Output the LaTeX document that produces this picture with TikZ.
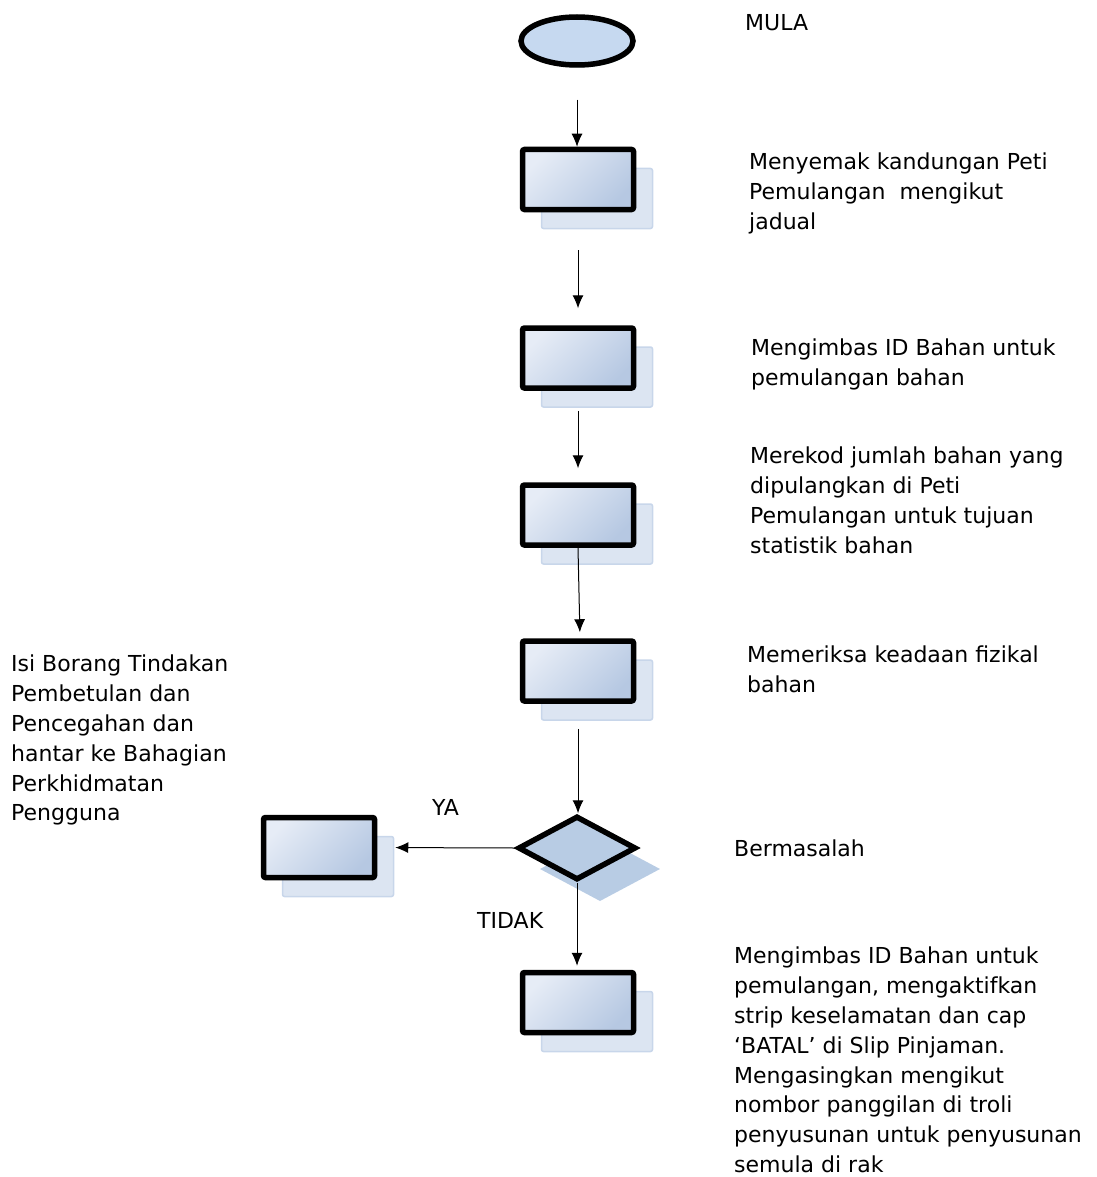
\documentclass[tikz,border=0pt]{standalone}
\usepackage{fontspec}
\setmainfont{DejaVu Sans}
\usetikzlibrary{arrows.meta,shadows,shapes.geometric}

\definecolor{boxlight}{HTML}{E6ECF6}
\definecolor{boxdark}{HTML}{B6C8E2}
\definecolor{shadefill}{HTML}{DCE5F2}
\definecolor{shadeedge}{HTML}{C8D6EA}
\definecolor{startfill}{HTML}{C6D9F0}
\definecolor{decfill}{HTML}{B8CCE4}

\tikzset{
  stepbox/.style={draw, line width=5.5pt, rounded corners=2pt,
    minimum width=111pt, minimum height=60pt, inner sep=0pt,
    top color=boxlight, bottom color=boxdark, shading angle=45,
    copy shadow={shadow xshift=19pt, shadow yshift=-19pt,
      fill=shadefill, draw=shadeedge, line width=1.5pt}},
  startbox/.style={draw, ellipse, line width=5.5pt, fill=startfill,
    minimum width=112pt, minimum height=48pt, inner sep=0pt,
    copy shadow={shadow xshift=1.5pt, shadow yshift=-2.5pt,
      fill=gray!70!teal!60, draw=none}},
  decbox/.style={draw, diamond, line width=5.5pt, fill=decfill, aspect=1.8,
    minimum width=118pt, minimum height=64pt, inner sep=0pt,
    copy shadow={shadow xshift=23pt, shadow yshift=-21pt,
      fill=decfill, draw=decfill, line width=2pt, rounded corners=4pt}},
  note/.style={anchor=north west, align=left, inner sep=0pt,
    font=\fontsize{22}{29.8}\selectfont},
  flow/.style={-{Latex[length=13pt,width=11pt]}, line width=1pt},
}

\begin{document}
\begin{tikzpicture}[x=1pt,y=-1pt]
  \useasboundingbox (0,0) rectangle (1096,1177);

  % flow
  \node[startbox] (mula) at (577,41) {};
  \node[stepbox] (semak) at (578,179.5) {};
  \node[stepbox] (imbas) at (578,358) {};
  \node[stepbox] (rekod) at (578,515) {};
  \node[stepbox] (periksa) at (578,671) {};
  \node[decbox] (masalah) at (577,848) {};
  \node[stepbox] (borang) at (319,847.5) {};
  \node[stepbox] (susun) at (578,1002.5) {};

  \draw[flow, shorten <=32pt] (mula.south) -- (mula.south |- semak.north);
  \draw[flow, shorten <=38pt, shorten >=17pt] (semak.south) -- (imbas.north);
  \draw[flow, shorten <=20pt, shorten >=14pt] (imbas.south) -- (rekod.north);
  \draw[flow, shorten >=6pt] (rekod.south) -- ([xshift=2pt]periksa.north);
  \draw[flow, shorten <=25pt] (periksa.south) -- (periksa.south |- masalah.north);
  \draw[flow, shorten >=18pt] (masalah.west) -- (borang.east);
  \draw[flow, shorten >=4pt] (masalah.south) -- (masalah.south |- susun.north);

  % labels
  \node[note] (tmula) at (745,14) {MULA};
  \node[note] (tsemak) at (749,153) {Menyemak kandungan Peti\\
    Pemulangan~~mengikut\\jadual};
  \node[note] (timbas) at (751,339) {Mengimbas ID Bahan untuk\\
    pemulangan bahan};
  \node[note] (trekod) at (750,447) {Merekod jumlah bahan yang\\
    dipulangkan di Peti\\Pemulangan untuk tujuan\\statistik bahan};
  \node[note] (tperiksa) at (747,646) {Memeriksa keadaan fizikal\\bahan};
  \node[note] (tmasalah) at (734,840) {Bermasalah};
  \node[note] (tsusun) at (734,947) {Mengimbas ID Bahan untuk\\
    pemulangan, mengaktifkan\\strip keselamatan dan cap\\
    ‘BATAL’ di Slip Pinjaman.\\Mengasingkan mengikut\\
    nombor panggilan di troli\\penyusunan untuk penyusunan\\semula di rak};
  \node[note] (tborang) at (11,655) {Isi Borang Tindakan\\Pembetulan dan\\
    Pencegahan dan\\hantar ke Bahagian\\Perkhidmatan\\Pengguna};
  \node[note] (tya) at (432,799) {YA};
  \node[note] (ttidak) at (477,912) {TIDAK};
\end{tikzpicture}
\end{document}
